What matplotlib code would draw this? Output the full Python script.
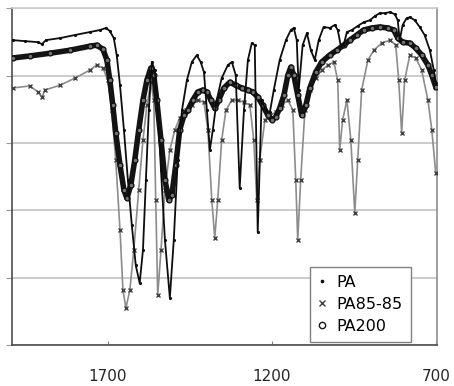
import numpy as np
import matplotlib
matplotlib.use("Agg")
import matplotlib.pyplot as plt

# IR spectra, wavenumber (cm-1) vs transmittance (%)
pa_wn = [1990, 1953, 1913, 1901, 1889, 1846, 1801, 1755, 1724, 1706, 1694, 1682,
         1673, 1663, 1651, 1639, 1627, 1615, 1603, 1593, 1584, 1575, 1566, 1557,
         1548, 1538, 1526, 1511, 1499, 1487, 1474, 1459, 1444, 1429, 1417, 1407,
         1398, 1389, 1380, 1368, 1353, 1334, 1322, 1310, 1298, 1285, 1273, 1261,
         1252, 1243, 1231, 1218, 1206, 1194, 1176, 1157, 1142, 1133, 1124, 1118,
         1106, 1093, 1081, 1069, 1057, 1042, 1023, 1008, 999, 990, 981, 971,
         956, 938, 920, 901, 886, 871, 856, 840, 825, 816, 810, 801,
         789, 779, 764, 749, 734, 718, 706, 700]
pa_t = [90.5, 90.2, 89.9, 89.3, 90.5, 91.1, 92.0, 92.9, 93.5, 94.1, 93.2, 91.1,
        86.0, 77.1, 63.8, 49.0, 35.6, 23.7, 18.4, 28.2, 49.0, 69.7, 84.0, 81.6,
        69.7, 51.9, 31.2, 14.0, 31.2, 54.9, 69.7, 78.6, 84.0, 86.0, 84.0, 81.0,
        69.7, 57.9, 63.8, 72.7, 79.2, 83.1, 84.0, 80.1, 46.6, 69.7, 84.6, 89.6,
        89.0, 33.5, 72.7, 69.7, 69.1, 75.7, 84.6, 90.5, 93.5, 94.1, 90.5, 75.7,
        89.0, 92.6, 87.5, 84.6, 90.5, 94.4, 94.1, 95.0, 93.5, 89.0, 89.0, 92.9,
        93.5, 94.7, 95.8, 96.4, 97.6, 98.5, 98.5, 98.8, 98.2, 96.4, 90.5, 95.0,
        97.0, 97.3, 96.4, 94.4, 92.0, 87.5, 81.6, 77.7]

pa85_wn = [1990, 1938, 1913, 1901, 1892, 1846, 1801, 1755, 1734, 1715, 1700, 1688,
           1676, 1663, 1654, 1645, 1633, 1621, 1606, 1593, 1581, 1569, 1560, 1554,
           1548, 1538, 1526, 1511, 1496, 1481, 1462, 1444, 1426, 1407, 1395, 1383,
           1374, 1365, 1353, 1340, 1322, 1304, 1285, 1267, 1255, 1246, 1237, 1221,
           1206, 1188, 1170, 1151, 1136, 1127, 1121, 1112, 1099, 1084, 1066, 1048,
           1029, 1011, 999, 993, 984, 971, 959, 947, 938, 926, 907, 889,
           865, 840, 822, 813, 804, 795, 779, 761, 743, 724, 712, 700]
pa85_t = [76.3, 76.9, 75.1, 73.6, 75.7, 77.1, 79.2, 81.6, 83.1, 82.2, 78.6, 69.7,
          54.9, 34.1, 16.3, 11.0, 16.3, 28.2, 46.0, 60.8, 71.2, 78.0, 72.7, 43.0,
          14.8, 28.2, 46.0, 57.9, 63.8, 67.4, 69.7, 71.2, 72.7, 72.1, 63.8, 43.0,
          31.8, 43.0, 60.8, 69.7, 72.7, 72.7, 72.1, 71.2, 60.8, 43.0, 54.9, 66.8,
          68.2, 69.1, 71.2, 72.7, 69.7, 49.0, 31.2, 49.0, 69.7, 75.7, 79.2, 81.6,
          83.1, 84.0, 78.6, 57.9, 66.8, 72.7, 60.8, 39.2, 54.9, 75.7, 84.6, 87.5,
          89.6, 90.5, 89.0, 78.6, 62.9, 78.6, 86.1, 85.2, 81.6, 72.7, 63.8, 51.0]

pa200_wn = [1990, 1938, 1877, 1816, 1755, 1734, 1715, 1703, 1694, 1685, 1676, 1663,
            1651, 1642, 1630, 1618, 1606, 1593, 1581, 1569, 1560, 1551, 1538, 1526,
            1514, 1505, 1493, 1481, 1468, 1456, 1441, 1426, 1410, 1398, 1386, 1374,
            1362, 1346, 1328, 1310, 1292, 1273, 1258, 1243, 1228, 1212, 1200, 1188,
            1176, 1163, 1151, 1142, 1133, 1121, 1109, 1096, 1084, 1066, 1048, 1023,
            1002, 981, 962, 941, 920, 895, 871, 846, 828, 816, 801, 779,
            761, 743, 724, 712, 700]
pa200_t = [85.2, 85.8, 86.6, 87.5, 88.7, 89.0, 87.8, 84.6, 78.6, 71.2, 62.9, 53.4,
           46.0, 43.6, 47.5, 54.9, 63.8, 72.7, 78.6, 82.2, 80.1, 72.7, 60.8, 49.0,
           43.0, 44.5, 53.4, 63.8, 68.2, 69.7, 72.7, 75.1, 75.7, 75.1, 72.7, 70.3,
           72.7, 76.3, 78.0, 77.1, 76.3, 75.7, 75.1, 73.6, 71.2, 68.2, 66.8, 67.7,
           70.3, 74.2, 80.1, 82.5, 80.1, 74.2, 68.2, 71.2, 76.3, 81.0, 84.0, 86.1,
           87.5, 89.0, 90.5, 92.0, 93.5, 94.1, 94.4, 94.1, 93.5, 91.1, 89.9, 89.6,
           88.1, 86.1, 83.1, 80.1, 76.6]

xticks = [1700, 1200, 700]

fig = plt.figure(figsize=(4.54, 3.86), dpi=100)
ax = fig.add_axes([0.026, 0.106, 0.936, 0.873])

# PA85-85 (grey, crosses)
ax.plot(pa85_wn, pa85_t, '-', color='0.55', lw=1.2, zorder=2)
ax.plot(pa85_wn, pa85_t, 'x', color='0.25', ms=3.5, mew=1.0, ls='none',
        zorder=3, label='PA85-85')
# PA200 (thick, open circles)
ax.plot(pa200_wn, pa200_t, '-', color='0.08', lw=4.0, zorder=4)
ax.plot(pa200_wn, pa200_t, 'o', mfc='0.45', mec='0.05', ms=3.5, mew=0.9,
        ls='none', zorder=5)
ax.plot([], [], 'o', mfc='white', mec='0.1', ms=3.5, mew=1.0, ls='none',
        label='PA200')
# PA (thin, dots)
ax.plot(pa_wn, pa_t, '-', color='0.05', lw=1.3, zorder=6)
ax.plot(pa_wn, pa_t, '.', color='0.05', ms=2.5, ls='none', zorder=7, label='PA')

ax.set_xlim(1993, 697)
ax.set_ylim(0, 100)
ax.set_xticks(xticks)
ax.set_xticklabels([str(v) for v in xticks], fontsize=11, color='0.15')
ax.tick_params(axis='x', direction='in', length=3, pad=17, color='0.5')
ax.set_yticks([0, 20, 40, 60, 80, 100])
ax.set_yticklabels([])
ax.tick_params(axis='y', direction='out', length=4, color='0.6')
ax.grid(axis='y', color='0.78', lw=1.3)
ax.set_axisbelow(True)

ax.spines['left'].set_color('0.3')
ax.spines['bottom'].set_color('0.3')
ax.spines['right'].set_color('0.55')
ax.spines['top'].set_color('0.8')
for s in ax.spines.values():
    s.set_linewidth(1.2)

h, l = ax.get_legend_handles_labels()
order = [l.index('PA'), l.index('PA85-85'), l.index('PA200')]
leg = ax.legend([h[i] for i in order], [l[i] for i in order],
                loc='lower right', bbox_to_anchor=(0.939, 0.009),
                borderaxespad=0, fontsize=11.5,
                frameon=True, fancybox=False, edgecolor='0.5', framealpha=1,
                handlelength=0.6, handletextpad=0.6, borderpad=0.5,
                labelspacing=0.45, markerscale=1.3)
leg.get_frame().set_linewidth(1.0)

fig.savefig('out.png', dpi=100)
